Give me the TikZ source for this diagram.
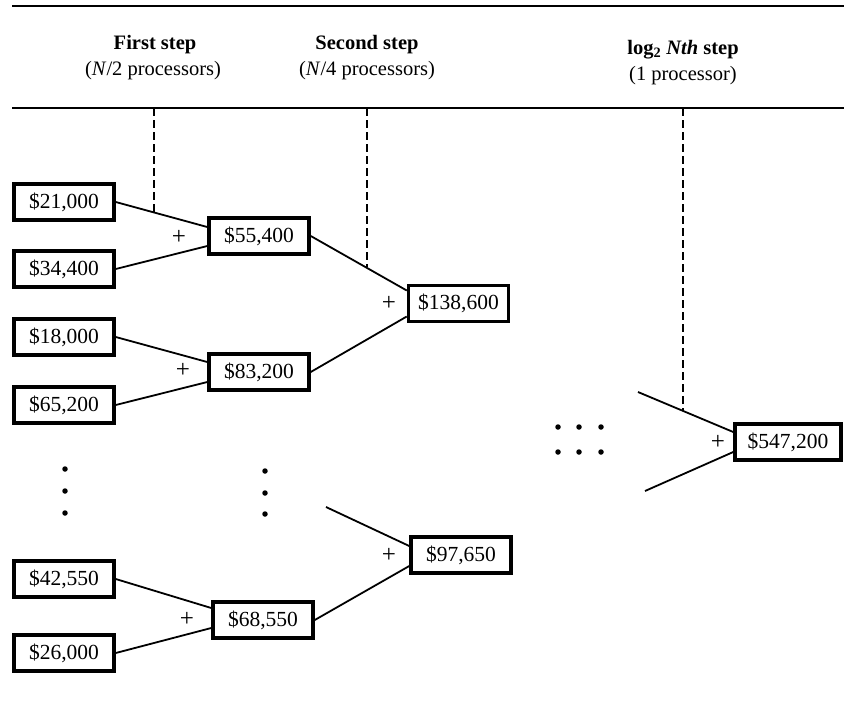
\documentclass[tikz,border=0pt]{standalone}
\usepackage{fontspec}
\setmainfont{Liberation Serif}
\begin{document}
\begin{tikzpicture}[x=1pt,y=-1pt,
  val/.style={draw=black,line width=3.5pt,minimum width=100pt,minimum height=36pt,inner sep=0pt,font=\fontsize{21.5}{24}\selectfont},
  conn/.style={line width=1.8pt},
  guide/.style={line width=1.6pt,dash pattern=on 8pt off 4pt},
  rulel/.style={line width=2.2pt},
  plus/.style={font=\fontsize{25}{28}\selectfont,inner sep=0pt},
  head/.style={font=\fontsize{20.5}{24}\selectfont\bfseries,inner sep=0pt},
  sub/.style={font=\fontsize{20.5}{24}\selectfont,inner sep=0pt},
  vdot/.style={circle,fill=black,inner sep=0pt,minimum size=5.5pt}]
\useasboundingbox (0,0) rectangle (844,713);
% rules
\coordinate (r1a) at (12,6); \coordinate (r1b) at (844,6);
\coordinate (r2a) at (12,108); \coordinate (r2b) at (844,108);
\draw[rulel] (r1a) -- (r1b);
\draw[rulel] (r2a) -- (r2b);
% headers
\node[head] (h1) at (155,45) {First step};
\node[sub] (s1) at (153,71) {(\textit{N}/2 processors)};
\node[head] (h2) at (367,45) {Second step};
\node[sub] (s2) at (367,71) {(\textit{N}/4 processors)};
\node[head] (h3) at (683,50) {log\textsubscript{2} \textit{Nth} step};
\node[sub] (s3) at (683,76) {(1 processor)};
% boxes
\node[val] (n21) at (64,202) {\$21,000};
\node[val] (n34) at (64,269) {\$34,400};
\node[val] (n55) at (259,236) {\$55,400};
\node[val] (n138) at (458.5,303.5) {\$138,600};
\node[val] (n18) at (64,337) {\$18,000};
\node[val] (n65) at (64,405) {\$65,200};
\node[val] (n83) at (259,372) {\$83,200};
\node[val,minimum width=106pt] (n547) at (788,442) {\$547,200};
\node[val] (n97) at (461,555) {\$97,650};
\node[val] (n42) at (64,579) {\$42,550};
\node[val] (n68) at (263,620) {\$68,550};
\node[val] (n26) at (64,653) {\$26,000};
% dashed guides
\coordinate (g1t) at (154,108); \coordinate (g1b) at (154,212);
\coordinate (g2t) at (367,108); \coordinate (g2b) at (367,267);
\coordinate (g3t) at (683,108); \coordinate (g3b) at (683,410);
\draw[guide] (g1t) -- (g1b);
\draw[guide] (g2t) -- (g2b);
\draw[guide] (g3t) -- (g3b);
% connectors
\draw[conn] (n21.east) -- ([yshift=9pt]n55.west);
\draw[conn] (n34.east) -- ([yshift=-10pt]n55.west);
\draw[conn] (n18.east) -- ([yshift=10pt]n83.west);
\draw[conn] (n65.east) -- ([yshift=-10pt]n83.west);
\draw[conn] (n55.east) -- ([yshift=13pt]n138.west);
\draw[conn] (n83.east) -- ([yshift=-13pt]n138.west);
\draw[conn] (n42.east) -- ([yshift=12pt]n68.west);
\draw[conn] (n26.east) -- ([yshift=-8pt]n68.west);
\coordinate (f97) at (326,507);
\draw[conn] (f97) -- ([yshift=9pt]n97.west);
\draw[conn] (n68.east) -- ([yshift=-11pt]n97.west);
\coordinate (f547a) at (638,392);
\coordinate (f547b) at (645,491);
\draw[conn] (f547a) -- ([yshift=10pt]n547.west);
\draw[conn] (f547b) -- ([yshift=-10pt]n547.west);
% plus signs
\node[plus] (p1) at (179,237) {+};
\node[plus] (p2) at (183,370) {+};
\node[plus] (p3) at (389,303) {+};
\node[plus] (p4) at (187,619) {+};
\node[plus] (p5) at (389,555) {+};
\node[plus] (p6) at (718,442) {+};
% dots
\foreach \i/\x/\y in {a/65/469,b/65/491,c/65/513,d/265/471,e/265/493,f/265/514,
  g/558/427,h/579/427,k/601/427,l/558/452,m/579/452,o/601/452}
  \node[vdot] (d\i) at (\x,\y) {};
\end{tikzpicture}
\end{document}
